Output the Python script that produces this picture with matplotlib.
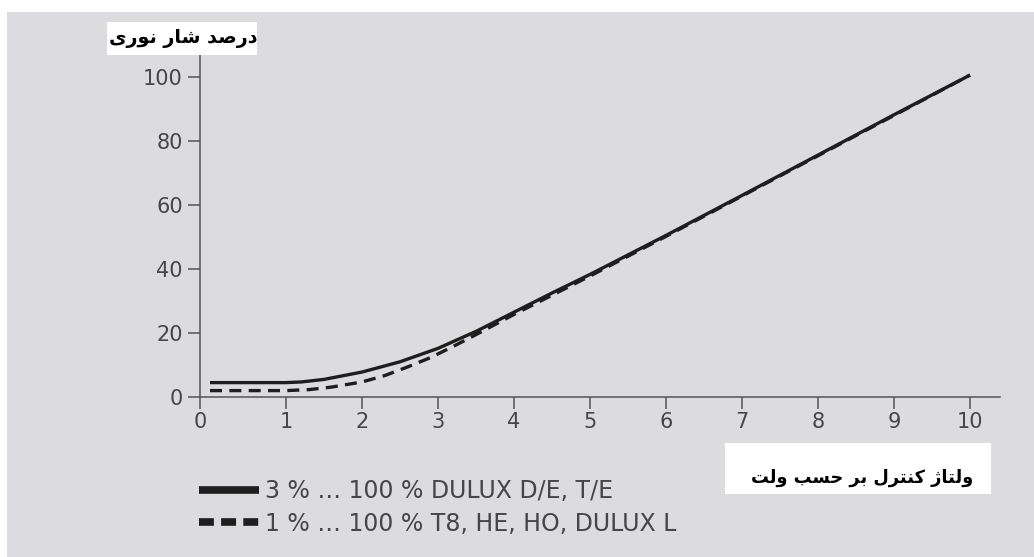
import matplotlib
matplotlib.use("Agg")
import matplotlib.pyplot as plt
from matplotlib.lines import Line2D
from matplotlib.patches import Rectangle

# values (control voltage in V, luminous flux in %)
volts_solid = [0, 0.5, 1.0, 1.2, 1.5, 2.0, 2.5, 3.0, 3.5, 4.0, 4.5, 5, 6, 7, 8, 9, 10]
flux_solid = [4.5, 4.5, 4.5, 4.7, 5.5, 7.8, 11.0, 15.2, 20.5, 26.5, 32.5, 38.3, 50.5, 63.0, 75.6, 88.2, 100.6]

volts_dash = [0, 0.5, 1.0, 1.3, 1.6, 2.0, 2.3, 2.6, 2.9, 3.2, 3.5, 4.0, 4.5, 5, 6, 7, 8, 9, 10]
flux_dash = [2.0, 2.0, 2.0, 2.3, 3.1, 4.7, 6.7, 9.4, 12.3, 15.8, 19.5, 25.8, 31.8, 37.8, 50.2, 62.8, 75.4, 88.0, 100.6]

labels = ["3 % \u2026 100 % DULUX D/E, T/E", "1 % \u2026 100 % T8, HE, HO, DULUX L"]
x_ticks = [1, 2, 3, 4, 5, 6, 7, 8, 9, 10]
y_ticks = [0, 20, 40, 60, 80, 100]
y_title = "درصد شار نوری"
x_title = "ولتاژ کنترل بر حسب ولت"

# arabic presentation forms: isolated, final, initial, medial
FORMS = {
    "ا": ("\uFE8D", "\uFE8E", None, None),
    "ب": ("\uFE8F", "\uFE90", "\uFE91", "\uFE92"),
    "ت": ("\uFE95", "\uFE96", "\uFE97", "\uFE98"),
    "ح": ("\uFEA1", "\uFEA2", "\uFEA3", "\uFEA4"),
    "د": ("\uFEA9", "\uFEAA", None, None),
    "ر": ("\uFEAD", "\uFEAE", None, None),
    "ژ": ("\uFB8A", "\uFB8B", None, None),
    "س": ("\uFEB1", "\uFEB2", "\uFEB3", "\uFEB4"),
    "ش": ("\uFEB5", "\uFEB6", "\uFEB7", "\uFEB8"),
    "ص": ("\uFEB9", "\uFEBA", "\uFEBB", "\uFEBC"),
    "ک": ("\uFB8E", "\uFB8F", "\uFB90", "\uFB91"),
    "ل": ("\uFEDD", "\uFEDE", "\uFEDF", "\uFEE0"),
    "ن": ("\uFEE5", "\uFEE6", "\uFEE7", "\uFEE8"),
    "و": ("\uFEED", "\uFEEE", None, None),
    "ی": ("\uFBFC", "\uFBFD", "\uFBFE", "\uFBFF"),
}


def shape(s):
    # join letters and put them in visual (left to right) order
    out = []
    for i, ch in enumerate(s):
        if ch not in FORMS:
            out.append(ch)
            continue
        prev = s[i - 1] if i > 0 else ""
        nxt = s[i + 1] if i + 1 < len(s) else ""
        jp = prev in FORMS and FORMS[prev][2] is not None
        jn = FORMS[ch][2] is not None and nxt in FORMS
        isol, fina, init, medi = FORMS[ch]
        if jp and jn:
            out.append(medi)
        elif jp:
            out.append(fina)
        elif jn:
            out.append(init)
        else:
            out.append(isol)
    return "".join(reversed(out))


W, H = 1034, 557
bg = "#dcdcde"
ink = "#1e1e1e"
grey = "#464646"

plt.rcParams["font.family"] = ["DejaVu Sans"]

fig = plt.figure(figsize=(W / 100, H / 100), dpi=100, facecolor="white")
fig.patches.append(Rectangle((7 / W, 0), 1, (H - 12) / H, transform=fig.transFigure,
                             facecolor=bg, edgecolor="none", zorder=-5))

ax = fig.add_axes([200 / W, 1 - 397 / H, 800 / W, 342 / H])
ax.patch.set_alpha(0)

ax.plot(volts_solid, flux_solid, color=ink, lw=2.4, solid_capstyle="butt")
ax.plot(volts_dash, flux_dash, color=ink, lw=2.4, dashes=(3.6, 2.2))

x_left = -10 / 76
ax.set_xlim(x_left, 790 / 76)
ax.set_ylim(0, 342 / 3.2)
ax.set_xticks([x_left] + x_ticks)
ax.set_xticklabels(["0"] + [str(v) for v in x_ticks])
ax.set_yticks(y_ticks)
for side in ["top", "right"]:
    ax.spines[side].set_visible(False)
for side in ["left", "bottom"]:
    ax.spines[side].set_color("#555555")
    ax.spines[side].set_linewidth(1.1)
ax.tick_params(length=8.5, width=1.1, color="#555555", labelsize=15, labelcolor=grey)
ax.tick_params(axis="x", pad=2.5)
ax.tick_params(axis="y", pad=4)

# white label boxes
fig.patches.append(Rectangle((107 / W, 1 - 55 / H), 150 / W, 33 / H, transform=fig.transFigure,
                             facecolor="white", edgecolor="none", zorder=1))
fig.patches.append(Rectangle((725 / W, 1 - 494 / H), 266 / W, 51 / H, transform=fig.transFigure,
                             facecolor="white", edgecolor="none", zorder=1))
fig.text(183 / W, 1 - 39 / H, shape(y_title), ha="center", va="center", fontsize=13.8,
         fontweight="bold", color="black", zorder=2)
fig.text(862 / W, 1 - 478 / H, shape(x_title), ha="center", va="center", fontsize=12.8,
         fontweight="bold", color="black", zorder=2)

handles = [Line2D([], [], color=ink, lw=5.5, solid_capstyle="butt"),
           Line2D([], [], color=ink, lw=5.5, dashes=(1.95, 0.95))]
fig.legend(handles, labels, loc="upper left", bbox_to_anchor=(199 / W, 1 - 479 / H),
           frameon=False, fontsize=17, handlelength=2.55, handletextpad=0.25,
           labelspacing=0.36, borderpad=0, borderaxespad=0, labelcolor=grey)

fig.savefig("out.png", dpi=100, facecolor="white")
